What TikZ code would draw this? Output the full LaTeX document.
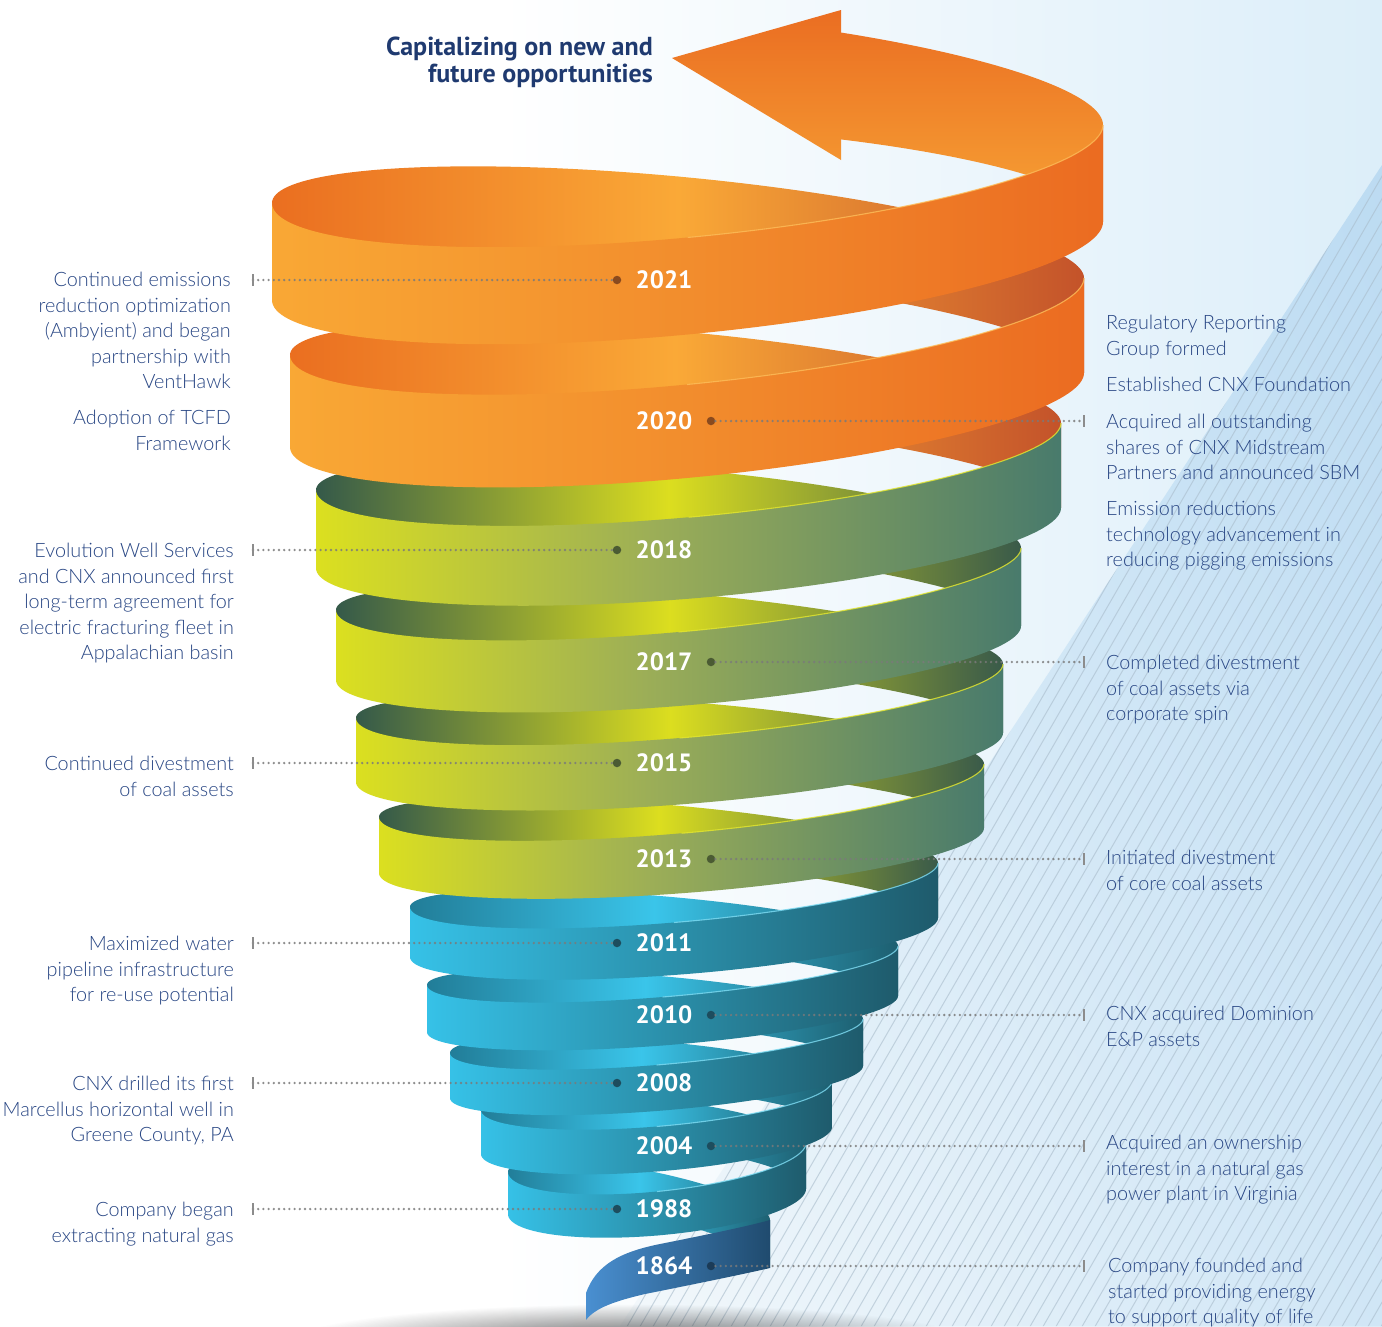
\documentclass[tikz,border=0pt]{standalone}
\usepackage{fontspec}
\IfFontExistsTF{Lato Light}{\setmainfont{Lato Light}}{\setmainfont{Lato}}
\newfontfamily\headfamily{PT Sans}
\usetikzlibrary{fadings,shadings}

\definecolor{txtblue}{HTML}{284684}
\definecolor{titleblue}{HTML}{1F3A70}
\definecolor{bgR}{HTML}{DCEEF9}
\definecolor{bandUL}{HTML}{D6EBF8}
\definecolor{bandUR}{HTML}{BCDBF2}
\definecolor{bandLL}{HTML}{F3F8FB}
\definecolor{bandLR}{HTML}{D0E6F6}
\definecolor{stripecol}{HTML}{A9BCCB}
\definecolor{tickgray}{HTML}{8C8C8C}
% ribbon colours
\definecolor{oF1}{HTML}{F9A835}\definecolor{oF2}{HTML}{F28D2D}\definecolor{oF3}{HTML}{EB6B21}
\definecolor{oB1}{HTML}{EA6E20}\definecolor{oB2}{HTML}{FAA937}\definecolor{oB3}{HTML}{C3522A}
\definecolor{gF1}{HTML}{DCE01F}\definecolor{gF2}{HTML}{9CAE57}\definecolor{gF3}{HTML}{487A6C}
\definecolor{gB1}{HTML}{33584A}\definecolor{gB2}{HTML}{DCDE1F}\definecolor{gB3}{HTML}{38594A}
\definecolor{bF1}{HTML}{36C2E8}\definecolor{bF2}{HTML}{2B90AB}\definecolor{bF3}{HTML}{1E5A6B}
\definecolor{bB1}{HTML}{217C97}\definecolor{bB2}{HTML}{3AC5EA}\definecolor{bB3}{HTML}{1D5E6F}
\definecolor{nF1}{HTML}{4A90D2}\definecolor{nF3}{HTML}{1F4A6D}
\definecolor{hlO}{HTML}{FDBE5A}\definecolor{hlG}{HTML}{E6E82C}\definecolor{hlB}{HTML}{7FDDF4}
\definecolor{odot}{HTML}{8A4A1E}\definecolor{gdot}{HTML}{4B5B33}
\definecolor{bdot}{HTML}{1D4D5E}\definecolor{ndot}{HTML}{1B3B57}
\definecolor{arrowT}{HTML}{EA6B21}\definecolor{arrowB}{HTML}{F8A837}

\tikzfading[name=shadowfade, inner color=transparent!0, outer color=transparent!100]

\newcommand\cnxbody{\fontsize{19.8}{23}\selectfont}
\newcommand\cnxtitle{\headfamily\bfseries\fontsize{26}{27}\selectfont}
\newcommand\cnxyear{\headfamily\bfseries\fontsize{25}{25}\selectfont}

% ribbon segment geometry: Lx Rx Ya Yb e ha hb phi0 phi1
% x = M - A cos(phi); y-top = Ya + (Yb-Ya) f + e sin(phi), f linear in x
\newcommand\setseg[9]{\def\sYa{#3}\def\sYb{#4}\def\sE{#5}\def\sHa{#6}\def\sHb{#7}\def\sPa{#8}\def\sPb{#9}%
  \pgfmathsetmacro\sLx{#1}\pgfmathsetmacro\sRx{#2}%
  \pgfmathsetmacro\sM{(#1+#2)/2}\pgfmathsetmacro\sA{(#2-#1)/2}%
  \pgfmathsetmacro\sD{#9-#8}\pgfmathsetmacro\sCa{cos(#8)}\pgfmathsetmacro\sDen{cos(#8)-cos(#9)}}
\newcommand\segtop{plot[domain=0:1,samples=90,variable=\pp]({\sM-\sA*cos(\sPa+\sD*\pp)},{\sYa+(\sYb-\sYa)*(\sCa-cos(\sPa+\sD*\pp))/\sDen+\sE*sin(\sPa+\sD*\pp)})}
\newcommand\segpath{plot[domain=0:1,samples=90,variable=\pp]({\sM-\sA*cos(\sPa+\sD*\pp)},{\sYa+(\sYb-\sYa)*(\sCa-cos(\sPa+\sD*\pp))/\sDen+\sE*sin(\sPa+\sD*\pp)}) -- plot[domain=0:1,samples=90,variable=\pp]({\sM-\sA*cos(\sPb-\sD*\pp)},{\sYa+\sHa+(\sYb-\sYa+\sHb-\sHa)*(\sCa-cos(\sPb-\sD*\pp))/\sDen+\sE*sin(\sPb-\sD*\pp)}) -- cycle}
\newcommand\fillseg[4]{%
  \pgfmathsetmacro\sMx{\sLx+#4*(\sRx-\sLx)}%
  \begin{scope}
    \clip \segpath;
    \shade[left color=#1,right color=#2] ({\sLx-3},-100) rectangle ({\sMx+0.6},1450);
    \shade[left color=#2,right color=#3] (\sMx,-100) rectangle ({\sRx+3},1450);
  \end{scope}}
\newcommand\hiline[1]{%
  \begin{scope}
    \clip (\sM,-100) rectangle (1400,1450);
    \draw[line width=1.1pt, draw=#1, opacity=0.8] \segtop;
  \end{scope}}
\newcommand\lblock[5]{%
  \foreach \txtl [count=\ii] in {#5} {\node[#2] (#1\ii) at ({#3},{#4+5+25.6*(\ii-1)}) {\txtl};}}

\begin{document}
\begin{tikzpicture}[x=1pt,y=-1pt,
  lefttxt/.style={anchor=mid east, inner sep=0pt, text=txtblue, font=\cnxbody},
  righttxt/.style={anchor=mid west, inner sep=0pt, text=txtblue, font=\cnxbody},
  titletxt/.style={anchor=mid east, inner sep=0pt, text=titleblue, font=\cnxtitle},
  yearlbl/.style={inner sep=0pt, text=white, font=\cnxyear},
  ydot/.style={circle, inner sep=0pt, minimum size=8.5pt},
  dotline/.style={draw=black!52, opacity=0.85, line width=2.6pt, line cap=round, dash pattern=on 0pt off 5.2pt},
  tickmark/.style={draw=tickgray, line width=2pt},
  stripe/.style={draw=stripecol, line width=1pt, opacity=0.6}]
\useasboundingbox (0,0) rectangle (1382,1326);

% ---------- background
\fill[white] (0,0) rectangle (1382,1326);
\shade[left color=white,right color=bgR] (500,0) rectangle (1382,1326);
\shade[upper left=bandUL,upper right=bandUR,lower left=bandLL,lower right=bandLR]
  (1382,165) -- (620,1326) -- (1382,1326) -- cycle;
\begin{scope}
  \clip (1382,165) -- (620,1326) -- (1382,1326) -- cycle;
  \foreach \k in {0,...,66} \draw[stripe] ({560+13*\k},1330) -- ++(770,-1334);
\end{scope}
\fill[black!80, opacity=0.8, path fading=shadowfade] (630,1342) ellipse [x radius=340pt, y radius=38pt];

% ---------- back (inner) parts of the spiral
\setseg{508}{770}{1220}{1172}{27}{48}{42}{180}{360}\fillseg{bB1}{bB2}{bB3}{0.5}
\setseg{481}{806}{1143}{1110}{29.3}{46}{44}{180}{360}\fillseg{bB1}{bB2}{bB3}{0.5}
\setseg{450}{832}{1081}{1053}{27}{46}{45}{180}{360}\fillseg{bB1}{bB2}{bB3}{0.5}
\setseg{427}{863}{1019}{985}{27.2}{47}{47}{180}{360}\fillseg{bB1}{bB2}{bB3}{0.5}
\setseg{410}{898}{946}{907}{31}{50}{50}{180}{360}\fillseg{bB1}{bB2}{bB3}{0.5}
\setseg{379}{938}{863}{817}{36}{55}{56}{180}{360}\fillseg{gB1}{gB2}{gB3}{0.5}
\setseg{356}{984}{764}{718}{40.5}{64}{64}{180}{360}\fillseg{gB1}{gB2}{gB3}{0.5}
\setseg{336}{1003}{664}{610}{45}{69}{70}{180}{360}\fillseg{gB1}{gB2}{gB3}{0.5}
\setseg{316}{1021}{548}{490}{51.3}{78}{78}{180}{360}\fillseg{gB1}{gB2}{gB3}{0.5}
\setseg{290}{1061}{423}{355}{58}{85}{92}{180}{360}\fillseg{oB1}{oB2}{oB3}{0.5}
\setseg{272}{1084}{278}{203}{64}{95}{97}{180}{360}\fillseg{oB1}{oB2}{oB3}{0.5}

% ---------- arrow at the top
\setseg{255}{1103}{125}{102.5}{76}{97}{107}{180}{248}
\begin{scope}
  \clip \segpath;
  \shade[top color=arrowT,bottom color=arrowB] (600,0) rectangle (1110,240);
\end{scope}
\begin{scope}
  \clip (841,10) -- (672,58) -- (841,160) -- cycle;
  \shade[top color=arrowT,bottom color=arrowB] (600,0) rectangle (1110,240);
\end{scope}

% ---------- front parts of the spiral
\begin{scope}
  \clip (586,1293) .. controls (596,1265) and (620,1252) .. (660,1244)
        .. controls (700,1236) and (745,1227) .. (770,1220) -- (770,1268)
        .. controls (735,1276) and (680,1287) .. (645,1294)
        .. controls (615,1301) and (595,1308) .. (586,1320) -- cycle;
  \shade[left color=nF1,right color=nF3] (584,1200) rectangle (772,1330);
\end{scope}
\setseg{508}{806}{1172}{1143}{34}{42}{46}{0}{180}\fillseg{bF1}{bF2}{bF3}{0.5}\hiline{hlB}
\setseg{481}{832}{1110}{1081}{31}{44}{46}{0}{180}\fillseg{bF1}{bF2}{bF3}{0.5}\hiline{hlB}
\setseg{450}{863}{1053}{1019}{29}{45}{47}{0}{180}\fillseg{bF1}{bF2}{bF3}{0.5}\hiline{hlB}
\setseg{427}{898}{985}{946}{31.5}{47}{50}{0}{180}\fillseg{bF1}{bF2}{bF3}{0.5}\hiline{hlB}
\setseg{410}{938}{907}{863}{37.5}{50}{55}{0}{180}\fillseg{bF1}{bF2}{bF3}{0.5}\hiline{hlB}
\setseg{379}{984}{817}{764}{42.75}{56}{64}{0}{180}\fillseg{gF1}{gF2}{gF3}{0.45}\hiline{hlG}
\setseg{356}{1003}{718}{664}{47}{64}{69}{0}{180}\fillseg{gF1}{gF2}{gF3}{0.45}\hiline{hlG}
\setseg{336}{1021}{610}{548}{53}{70}{78}{0}{180}\fillseg{gF1}{gF2}{gF3}{0.45}\hiline{hlG}
\setseg{316}{1061}{490}{423}{60.75}{78}{85}{0}{180}\fillseg{gF1}{gF2}{gF3}{0.45}\hiline{hlG}
\setseg{290}{1084}{355}{278}{68}{92}{95}{0}{180}\fillseg{oF1}{oF2}{oF3}{0.5}\hiline{hlO}
\setseg{272}{1103}{203}{125}{73.5}{97}{97}{0}{180}\fillseg{oF1}{oF2}{oF3}{0.5}\hiline{hlO}

% ---------- connectors
\foreach \yr/\yy/\dc in {2021/280/odot,2018/550/gdot,2015/763/gdot,2011/943/bdot,2008/1083/bdot,1988/1209/bdot}{
  \coordinate (lt\yr) at (253,\yy);
  \node[ydot, fill=\dc] (ld\yr) at (617,\yy) {};
  \draw[dotline] (lt\yr) -- (ld\yr);
  \draw[tickmark] ([yshift=6pt]lt\yr) -- ([yshift=-6pt]lt\yr);
}
\foreach \yr/\yy/\dc in {2020/421/odot,2017/662/gdot,2013/859/gdot,2010/1015/bdot,2004/1146/bdot,1864/1266/ndot}{
  \coordinate (rt\yr) at (1084,\yy);
  \node[ydot, fill=\dc] (rd\yr) at (711,\yy) {};
  \draw[dotline] (rd\yr) -- (rt\yr);
  \draw[tickmark] ([yshift=6pt]rt\yr) -- ([yshift=-6pt]rt\yr);
}

% ---------- year labels
\foreach \yr/\yy in {2021/280,2020/421,2018/550,2017/662,2015/763,2013/859,2011/943,2010/1015,2008/1083,2004/1146,1988/1209,1864/1266}
  \node[yearlbl] (y\yr) at (664,\yy) {\yr};

% ---------- title
\node[titletxt] (title1) at (653,53) {Capitalizing on new and};
\node[titletxt] (title2) at (653,80) {future opportunities};

% ---------- left texts
\lblock{la}{lefttxt}{231}{279}{Continued emissions,reduction optimization,(Ambyient) and began,partnership with,VentHawk}
\lblock{lb}{lefttxt}{231}{417}{Adoption of TCFD,Framework}
\lblock{lc}{lefttxt}{234}{550}{Evolution Well Services,and CNX announced first,long-term agreement for,electric fracturing fleet in,Appalachian basin}
\lblock{ld}{lefttxt}{234}{763}{Continued divestment,of coal assets}
\lblock{le}{lefttxt}{234}{943}{Maximized water,pipeline infrastructure,for re-use potential}
\lblock{lf}{lefttxt}{234}{1083}{CNX drilled its first,Marcellus horizontal well in,{Greene County, PA}}
\lblock{lg}{lefttxt}{234}{1209}{Company began,extracting natural gas}

% ---------- right texts
\lblock{ra}{righttxt}{1106}{322}{Regulatory Reporting,Group formed}
\lblock{rb}{righttxt}{1106}{384}{Established CNX Foundation}
\lblock{rc}{righttxt}{1106}{421}{Acquired all outstanding,shares of CNX Midstream,Partners and announced SBM}
\lblock{rd}{righttxt}{1106}{508}{Emission reductions,technology advancement in,reducing pigging emissions}
\lblock{re}{righttxt}{1106}{662}{Completed divestment,of coal assets via,corporate spin}
\lblock{rf}{righttxt}{1106}{857}{Initiated divestment,of core coal assets}
\lblock{rg}{righttxt}{1106}{1013}{CNX acquired Dominion,E\&P assets}
\lblock{rh}{righttxt}{1106}{1142}{Acquired an ownership,interest in a natural gas,power plant in Virginia}
\lblock{ri}{righttxt}{1108}{1265}{Company founded and,started providing energy,to support quality of life}
\end{tikzpicture}
\end{document}
